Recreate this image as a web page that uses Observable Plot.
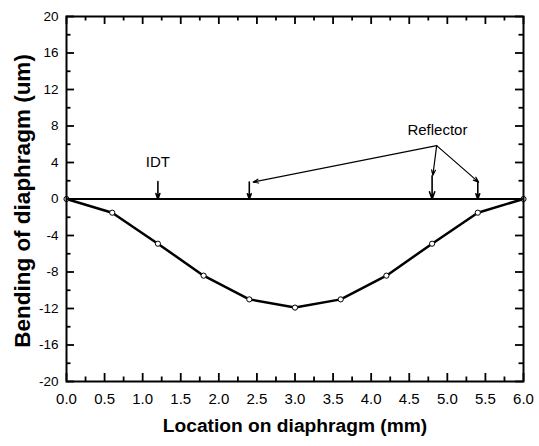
<!DOCTYPE html>
<html>
<head>
<meta charset="utf-8">
<script src="https://cdn.jsdelivr.net/npm/d3@7"></script>
<script src="https://cdn.jsdelivr.net/npm/@observablehq/plot@0.6"></script>
<style>
  html, body { margin: 0; padding: 0; background: #fff; }
  #chart { width: 539px; height: 446px; }
</style>
</head>
<body>
<div id="chart"></div>
<script>
// Location on diaphragm (mm) and bending (um)
const location_mm = [0.0, 0.6, 1.2, 1.8, 2.4, 3.0, 3.6, 4.2, 4.8, 5.4, 6.0];
const bending_um  = [0.0, -1.5, -4.9, -8.4, -11.0, -11.9, -11.0, -8.4, -4.9, -1.5, 0.0];

// axis ticks
const xMajorTicks = [0.0, 0.5, 1.0, 1.5, 2.0, 2.5, 3.0, 3.5, 4.0, 4.5, 5.0, 5.5, 6.0];
const xMinorTicks = [0.25, 0.75, 1.25, 1.75, 2.25, 2.75, 3.25, 3.75, 4.25, 4.75, 5.25, 5.75];
const yMajorTicks = [-20, -16, -12, -8, -4, 0, 4, 8, 12, 16, 20];
const yMinorTicks = [-18, -14, -10, -6, -2, 2, 6, 10, 14, 18];

// annotations
const idtLabel = {x: 1.2, y: 4.0, text: "IDT"};
const reflectorLabel = {x: 4.87, y: 7.5, text: "Reflector"};
const downArrowX     = [1.2, 2.4, 4.8, 5.4];
const downArrowTopY  = [1.9, 1.85, 2.55, 1.85];
const reflectorApex  = {x: 4.86, y: 5.85};
const reflectorTargetX = [2.45, 4.81, 5.41];
const reflectorTargetY = [1.85, 2.6, 1.85];

const xTitle = "Location on diaphragm (mm)";
const yTitle = "Bending of diaphragm (um)";

const curve = location_mm.map((x, i) => ({x, y: bending_um[i]}));
const downArrows = downArrowX.map((x, i) => ({x, y1: downArrowTopY[i], y2: 0}));
const connectors = reflectorTargetX.map((x, i) => ({x1: reflectorApex.x, y1: reflectorApex.y, x2: x, y2: reflectorTargetY[i]}));

const FONT = "'Liberation Sans', Arial, Helvetica, sans-serif";

const W = 539, H = 446, ML = 66, MR = 16, MT = 16, MB = 65;
const PW = W - ML - MR, PH = H - MT - MB;

// inward ticks: inset rules spanning a few pixels inside the frame
const ticksBottom = (v, len) => Plot.ruleX(v, {x: d => d, insetTop: PH - len, stroke: "black", strokeWidth: 1.8});
const ticksTop    = (v, len) => Plot.ruleX(v, {x: d => d, insetBottom: PH - len, stroke: "black", strokeWidth: 1.8});
const ticksLeft   = (v, len) => Plot.ruleY(v, {y: d => d, insetRight: PW - len, stroke: "black", strokeWidth: 1.8});
const ticksRight  = (v, len) => Plot.ruleY(v, {y: d => d, insetLeft: PW - len, stroke: "black", strokeWidth: 1.8});

const chart = Plot.plot({
  width: W,
  height: H,
  marginLeft: ML,
  marginRight: MR,
  marginTop: MT,
  marginBottom: MB,
  style: {fontFamily: FONT},
  x: {domain: [0, 6], axis: null},
  y: {domain: [-20, 20], axis: null},
  marks: [
    // tick labels
    Plot.axisX(xMajorTicks, {anchor: "bottom", tickSize: 0, tickPadding: 12, fontSize: 15, tickFormat: d => d.toFixed(1), label: null}),
    Plot.axisY(yMajorTicks, {anchor: "left", tickSize: 0, tickPadding: 8, fontSize: 13.5, tickFormat: d => `${d}`, label: null}),
    // zero line
    Plot.ruleY([0], {stroke: "#000", strokeWidth: 1.8}),
    // bending curve
    Plot.line(curve, {x: "x", y: "y", stroke: "#000", strokeWidth: 2.5}),
    Plot.dot(curve, {x: "x", y: "y", r: 2.6, fill: "#fff", stroke: "#000", strokeWidth: 1}),
    // arrows
    Plot.arrow(downArrows, {x: "x", y1: "y1", y2: "y2", stroke: "#000", strokeWidth: 1.6, headLength: 8, headAngle: 40}),
    Plot.arrow(connectors, {x1: "x1", y1: "y1", x2: "x2", y2: "y2", stroke: "#000", strokeWidth: 1.2, headLength: 7, headAngle: 40}),
    // annotation text
    Plot.text([idtLabel], {x: "x", y: "y", text: "text", fontSize: 15, fill: "#000"}),
    Plot.text([reflectorLabel], {x: "x", y: "y", text: "text", fontSize: 15, fill: "#000"}),
    // frame
    Plot.frame({stroke: "#000", strokeWidth: 2}),
    // inward ticks
    ticksBottom(xMajorTicks, 8),
    ticksBottom(xMinorTicks, 4.5),
    ticksTop(xMajorTicks, 8),
    ticksTop(xMinorTicks, 4.5),
    ticksLeft(yMajorTicks, 8),
    ticksLeft(yMinorTicks, 4.5),
    ticksRight(yMajorTicks, 8),
    ticksRight(yMinorTicks, 4.5),
    // axis titles
    Plot.text([xTitle], {frameAnchor: "bottom", dy: 50, text: d => d, fontSize: 19.2, fontWeight: "bold", fill: "#000"}),
    Plot.text([yTitle], {frameAnchor: "left", textAnchor: "middle", dx: -44, dy: 2, rotate: -90, text: d => d, fontSize: 22.5, fontWeight: "bold", fill: "#000"})
  ]
});
document.getElementById("chart").appendChild(chart);
</script>
</body>
</html>
